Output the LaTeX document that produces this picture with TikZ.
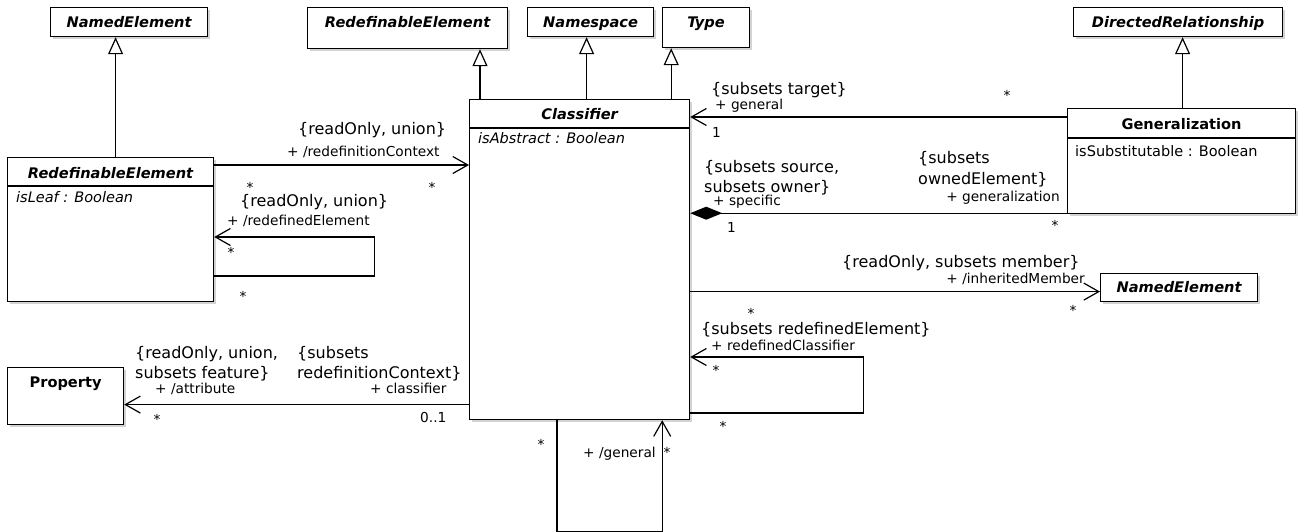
\documentclass[tikz,border=0pt]{standalone}
\usepackage{fontspec}
\setmainfont{DejaVu Sans}
\usepackage{tikz}
\usetikzlibrary{arrows.meta, shadows}

\begin{document}
\begin{tikzpicture}[x=1pt, y=-1pt,
        box/.style={draw, line width=1.2pt, fill=white, anchor=north west, inner sep=0pt,
            drop shadow={shadow xshift=2pt, shadow yshift=-2pt, opacity=0.35}},
        cname/.style={font=\fontsize{14.6}{17}\selectfont\bfseries\itshape, inner sep=0pt, anchor=base, yshift=-20pt},
        cnameup/.style={cname, font=\fontsize{14.6}{17}\selectfont\bfseries},
        attr/.style={font=\fontsize{14.5}{17}\selectfont, inner sep=0pt, anchor=base west},
        cons/.style={font=\fontsize{16}{20}\selectfont, inner sep=0pt, align=left, anchor=north west},
        role/.style={font=\fontsize{13.7}{16}\selectfont, inner sep=0pt, anchor=base west},
        mult/.style={font=\fontsize{13.7}{16}\selectfont, inner sep=0pt, anchor=base},
        ln/.style={line width=1.2pt},
        inh/.style={ln, -{Triangle[open, length=17pt, width=15pt, fill=white]}},
        nav/.style={ln, -{Straight Barb[length=15pt, width=17pt]}},
        comp/.style={ln, {Diamond[length=32pt, width=13pt]}-}]
        \useasboundingbox (0,0) rectangle (1307,531);

        % classes
        \node[box, minimum width=157pt, minimum height=29pt] (ne1) at (50,7) {};
        \node[box, minimum width=200pt, minimum height=41pt] (re1) at (307,7) {};
        \node[box, minimum width=126pt, minimum height=29pt] (ns) at (527,7) {};
        \node[box, minimum width=87pt, minimum height=40pt] (ty) at (662,7) {};
        \node[box, minimum width=209pt, minimum height=29pt] (dr) at (1073,7) {};
        \node[box, minimum width=220pt, minimum height=320pt] (clsf) at (469,99) {};
        \node[box, minimum width=228pt, minimum height=105pt] (gen) at (1067,108) {};
        \node[box, minimum width=206pt, minimum height=144pt] (re2) at (7,157) {};
        \node[box, minimum width=116pt, minimum height=57pt] (prop) at (7,367) {};
        \node[box, minimum width=157pt, minimum height=28pt] (ne2) at (1100,273) {};

        \node[cname] (ne1n) at (ne1.north) {NamedElement};
        \node[cname] (re1n) at (re1.north) {RedefinableElement};
        \node[cname] (nsn) at (ns.north) {Namespace};
        \node[cname] (tyn) at (ty.north) {Type};
        \node[cname] (drn) at (dr.north) {DirectedRelationship};
        \node[cname] (clsfn) at (clsf.north) {Classifier};
        \node[cnameup, yshift=-1pt] (genn) at (gen.north) {Generalization};
        \node[cname, yshift=-1pt] (re2n) at (re2.north) {RedefinableElement};
        \node[cnameup] (propn) at (prop.north) {Property};
        \node[cname, yshift=1pt] (ne2n) at (ne2.north) {NamedElement};

        \draw[ln] ([yshift=-29pt]clsf.north west) -- ([yshift=-29pt]clsf.north east);
        \draw[ln] ([yshift=-30pt]gen.north west) -- ([yshift=-30pt]gen.north east);
        \draw[ln] ([yshift=-29pt]re2.north west) -- ([yshift=-29pt]re2.north east);
        \node[attr, font=\fontsize{14.5}{17}\selectfont\itshape] (clsfa) at ([xshift=9pt, yshift=-44pt]clsf.north west) {isAbstract : Boolean};
        \node[attr] (gena) at ([xshift=8pt, yshift=-48pt]gen.north west) {isSubstitutable : Boolean};
        \node[attr, font=\fontsize{14.5}{17}\selectfont\itshape] (re2a) at ([xshift=9pt, yshift=-45pt]re2.north west) {isLeaf : Boolean};

        % generalizations
        \draw[inh] ([xshift=5pt]re2.north) -- ([xshift=5pt]re2.north |- ne1.south);
        \draw[inh] ([xshift=11pt]clsf.north west) -- ([xshift=11pt]clsf.north west |- re1.south);
        \draw[inh] ([xshift=7pt]clsf.north) -- ([xshift=7pt]clsf.north |- ns.south);
        \draw[inh] ([xshift=-19pt]clsf.north east) -- ([xshift=-19pt]clsf.north east |- ty.south);
        \draw[inh] ([xshift=1pt]gen.north) -- ([xshift=1pt]gen.north |- dr.south);

        % associations
        \coordinate (rc) at ([yshift=-8pt]re2.north east);
        \coordinate (gl) at ([yshift=-9pt]gen.north west);
        \coordinate (sp) at ([yshift=1pt]gen.south west);
        \coordinate (im) at ([yshift=-4pt]ne2.west);
        \coordinate (at) at ([yshift=-8.5pt]prop.east);
        \draw[nav] (rc) -- (rc -| clsf.west);
        \draw[nav] ([yshift=-119pt]re2.north east) -- ++(160,0) |- ([yshift=-80pt]re2.north east);
        \draw[nav] (gl) -- (gl -| clsf.east);
        \draw[comp] (sp -| clsf.east) -- (sp);
        \draw[nav] (im -| clsf.east) -- (im);
        \draw[nav] ([yshift=-314pt]clsf.north east) -- ++(173,0) |- ([yshift=-258pt]clsf.north east);
        \draw[nav] ([xshift=88pt]clsf.south west) -- ++(0,111) -| ([xshift=-28pt]clsf.south east);
        \draw[nav] (at -| clsf.west) -- (at);

        % labels
        \node[cons] (c1) at (298,122) {\{readOnly, union\}};
        \node[role] (r1) at (287,156) {+ /redefinitionContext};
        \node[mult] (m1) at (432,192) {*};
        \node[mult] (m2) at (250,192) {*};
        \node[cons] (c2) at (240,194) {\{readOnly, union\}};
        \node[role] (r2) at (227,225) {+ /redefinedElement};
        \node[mult] (m3) at (231,257) {*};
        \node[mult] (m4) at (243,301) {*};

        \node[cons] (c3) at (135,346) {\{readOnly, union,\\subsets feature\}};
        \node[role] (r3) at (155,393) {+ /attribute};
        \node[mult] (m5) at (157,424) {*};
        \node[cons] (c4) at (297,346) {\{subsets\\redefinitionContext\}};
        \node[role] (r4) at (370,393) {+ classifier};
        \node[role] (m6) at (420,422) {0..1};

        \node[cons] (c5) at (711,82) {\{subsets target\}};
        \node[role] (r5) at (715,109) {+ general};
        \node[role] (m7) at (712,137) {1};
        \node[mult] (m8) at (1007,100) {*};

        \node[cons] (c6) at (704,160) {\{subsets source,\\subsets owner\}};
        \node[role] (r6) at (713,205) {+ specific};
        \node[role] (m9) at (727,232) {1};
        \node[cons] (c7) at (918,151) {\{subsets\\[1pt]ownedElement\}};
        \node[role, anchor=base east] (r7) at (1060,201) {+ generalization};
        \node[mult] (m10) at (1055,230) {*};

        \node[cons] (c8) at (842,255) {\{readOnly, subsets member\}};
        \node[role, anchor=base east] (r8) at (1085,283) {+ /inheritedMember};
        \node[mult] (m11) at (1073,315) {*};

        \node[mult] (m12) at (751,318) {*};
        \node[cons] (c9) at (701,322) {\{subsets redefinedElement\}};
        \node[role] (r9) at (711,350) {+ redefinedClassifier};
        \node[mult] (m13) at (716,375) {*};
        \node[mult] (m14) at (723,431) {*};

        \node[mult] (m15) at (541,449) {*};
        \node[role] (r10) at (583,457) {+ /general};
        \node[mult] (m16) at (667,457) {*};
    \end{tikzpicture}
\end{document}
